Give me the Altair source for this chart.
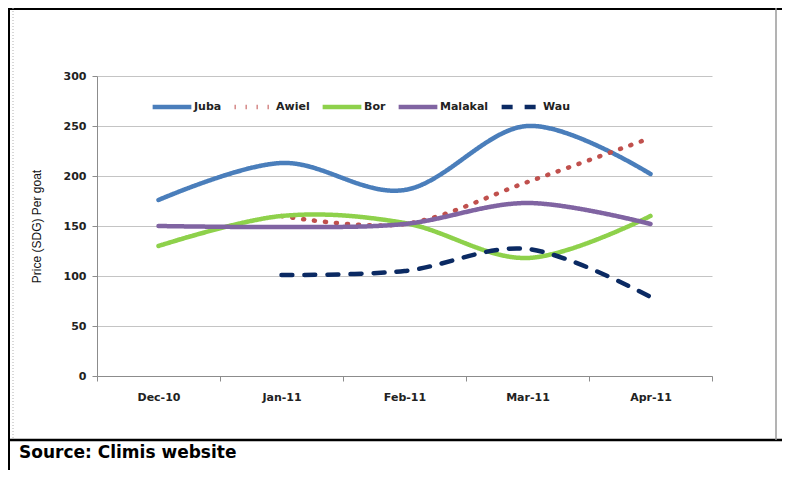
import altair as alt
import pandas as pd

months = ["Dec-10", "Jan-11", "Feb-11", "Mar-11", "Apr-11"]
series_names = ["Juba", "Awiel", "Bor", "Malakal", "Wau"]
juba = [176, 213, 186, 250, 202]
awiel = [None, 160, 152, 194, 238]
bor = [130, 160, 153, 118, 160]
malakal = [150, 149, 152, 173, 152]
wau = [None, 101, 105, 127, 79]
colors = ["#4A7EBB", "#C0504D", "#8ED14B", "#8064A2", "#0B2A63"]
dashes = [[1, 0], [1, 10], [1, 0], [1, 0], [11, 12]]
source_text = ["Source: Climis website"]

rows = []
for name, vals in zip(series_names, [juba, awiel, bor, malakal, wau]):
    for m, v in zip(months, vals):
        if v is not None:
            rows.append({"Month": m, "City": name, "Price": v})
df = pd.DataFrame(rows)

FONT = "DejaVu Sans"

x_enc = alt.X("Month:N", sort=months, title=None,
              scale=alt.Scale(domain=months, paddingInner=0, paddingOuter=0),
              axis=alt.Axis(labelAngle=0, tickBand="extent", labelPadding=10,
                            tickSize=5, domainColor="#8c8c8c", tickColor="#8c8c8c",
                            labelFont=FONT, labelFontSize=11, labelFontWeight="bold",
                            labelColor="#222222", grid=False))
y_enc = alt.Y("Price:Q", title="Price (SDG) Per goat",
              scale=alt.Scale(domain=[0, 300], nice=False),
              axis=alt.Axis(values=[0, 50, 100, 150, 200, 250, 300], tickSize=5,
                            domainColor="#8c8c8c", tickColor="#8c8c8c",
                            gridColor="#c4c4c4", gridWidth=1,
                            labelFont=FONT, labelFontSize=11, labelFontWeight="bold",
                            labelColor="#222222", labelPadding=6,
                            titleFont="Liberation Sans", titleFontSize=12,
                            titleFontWeight="normal", titleColor="#111111",
                            titlePadding=20))

lines = alt.Chart(df).mark_line(interpolate="cardinal", strokeWidth=4.5,
                                strokeCap="round").encode(
    x=x_enc,
    y=y_enc,
    color=alt.Color("City:N", sort=series_names, title=None,
                    scale=alt.Scale(domain=series_names, range=colors),
                    legend=alt.Legend(orient="none", direction="horizontal",
                                      legendX=53, legendY=9,
                                      symbolType="stroke", symbolSize=1500,
                                      symbolStrokeWidth=4.5,
                                      labelFont=FONT, labelFontSize=11,
                                      labelFontWeight="bold", labelColor="#222222",
                                      columnPadding=3, labelOffset=0)),
    strokeDash=alt.StrokeDash("City:N", sort=series_names, title=None,
                              scale=alt.Scale(domain=series_names, range=dashes)),
    detail="City:N",
)

frame_df = pd.DataFrame({"k": [1]})
sep = alt.Chart(frame_df).mark_rule(color="#000000", strokeWidth=2.5).encode(
    x=alt.value(-89), x2=alt.value(685), y=alt.value(364))
top_line = alt.Chart(frame_df).mark_rule(color="#000000", strokeWidth=2).encode(
    x=alt.value(-89), x2=alt.value(685), y=alt.value(-67))
right_line = alt.Chart(frame_df).mark_rule(color="#9a9a9a", strokeWidth=1.5).encode(
    x=alt.value(679), y=alt.value(-68), y2=alt.value(364))
left_line = alt.Chart(frame_df).mark_rule(color="#b0b0b0", strokeWidth=1,
                                          strokeDash=[1, 2]).encode(
    x=alt.value(-84), y=alt.value(-68), y2=alt.value(364))
left_black = alt.Chart(frame_df).mark_rule(color="#000000", strokeWidth=2).encode(
    x=alt.value(-88), y=alt.value(-68), y2=alt.value(394))

src = alt.Chart(pd.DataFrame({"t": source_text})).mark_text(
    align="left", baseline="middle", font=FONT, fontSize=17, fontWeight="bold",
    color="#000000").encode(text="t:N", x=alt.value(-78), y=alt.value(377))

chart = alt.layer(lines, sep, top_line, right_line, left_line, left_black, src).properties(
    width=615, height=300,
    autosize=alt.AutoSizeParams(type="none"),
    padding={"left": 89, "top": 68, "right": 70, "bottom": 94},
    background="white",
).configure_view(stroke=None)

chart.save("out.html", embed_options={"renderer": "svg", "actions": False})
